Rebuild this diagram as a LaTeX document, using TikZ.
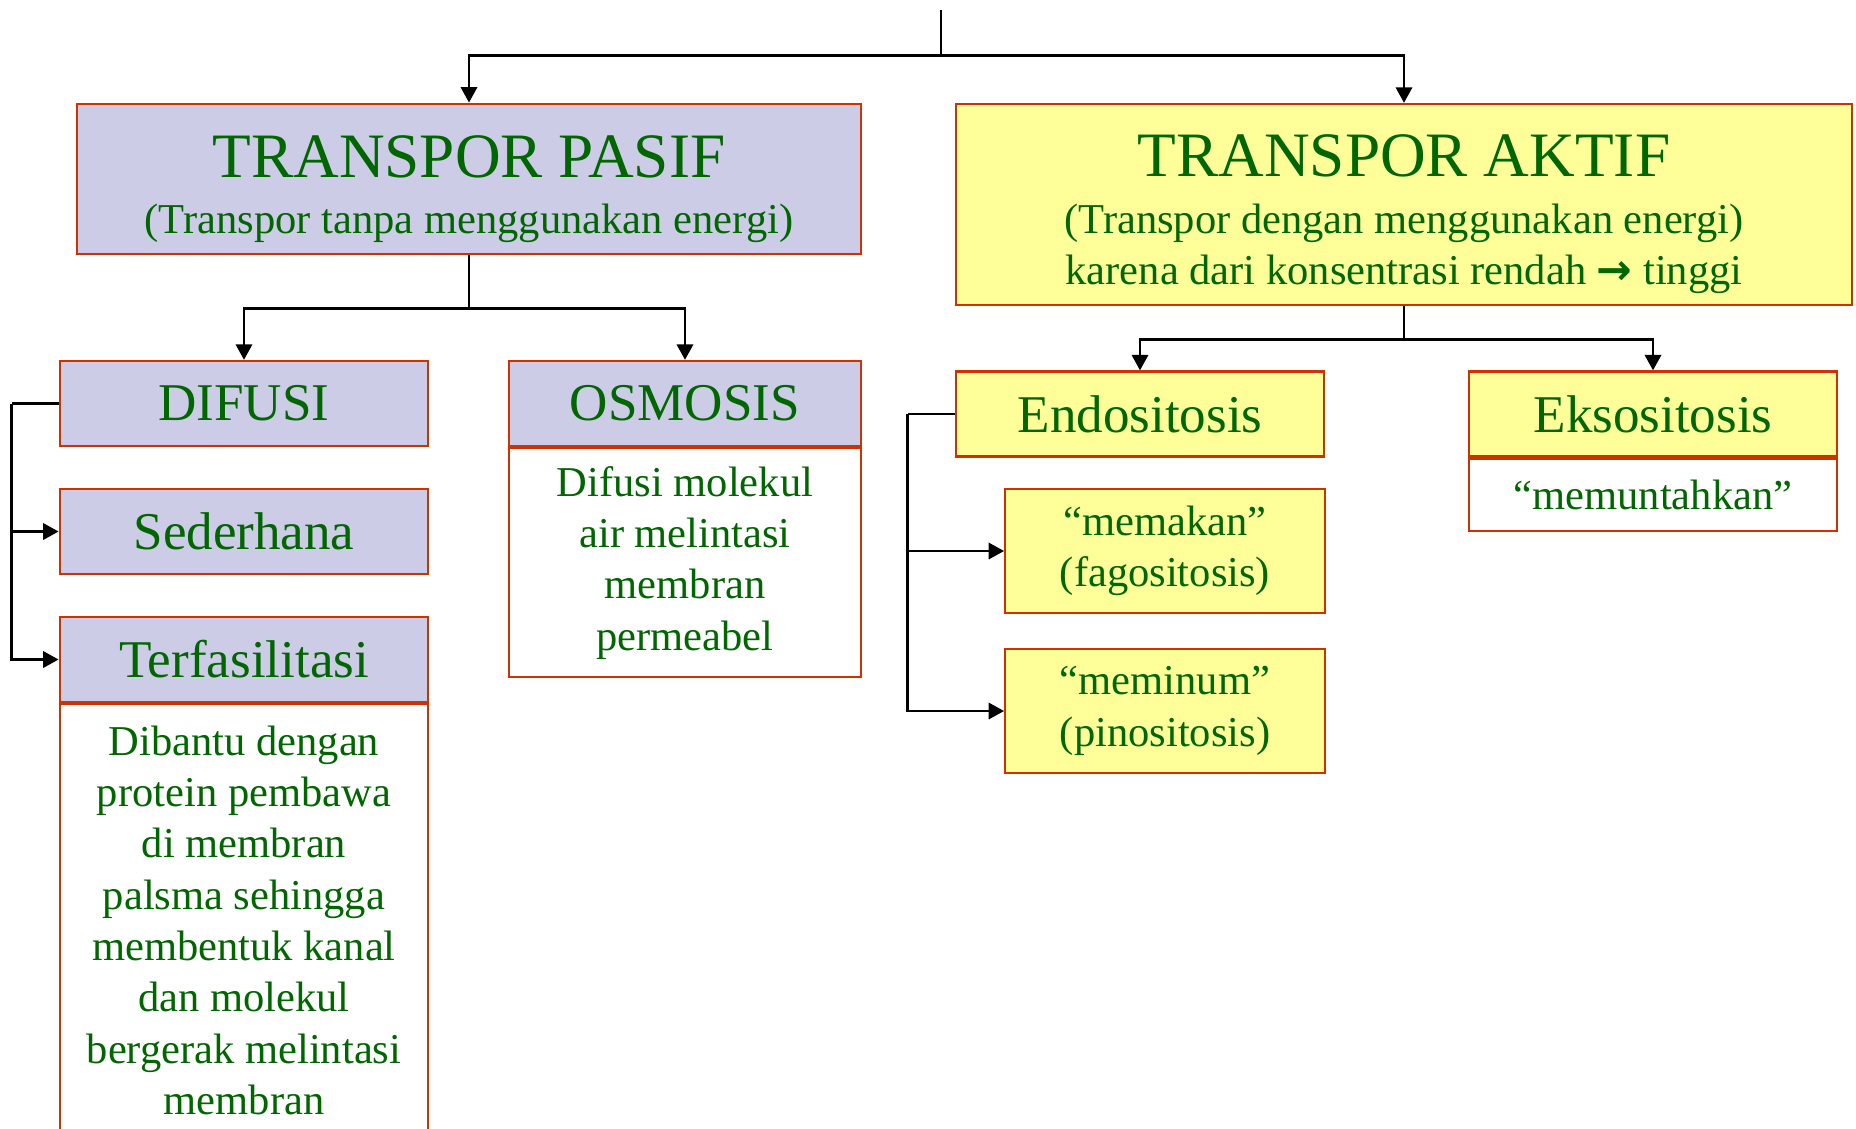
\documentclass[tikz,border=0pt]{standalone}
\usepackage{fontspec}
\setmainfont{Liberation Serif}
\newfontfamily\arrowfont{DejaVu Sans}
\usetikzlibrary{arrows.meta}

\definecolor{txtgreen}{RGB}{0,102,0}
\definecolor{pasiffill}{RGB}{204,204,230}
\definecolor{aktiffill}{RGB}{255,255,153}
\definecolor{boxline}{RGB}{204,51,0}

\begin{document}
\begin{tikzpicture}[>={Triangle[length=4.4pt,width=4.6pt]}, line width=0.8pt]
    \tikzstyle{box}=[draw=boxline, line width=0.65pt, inner sep=0pt, text=txtgreen, align=center,
                     font=\fontsize{12.1}{14.6}\selectfont]
    \tikzstyle{pasif box}=[box, fill=pasiffill]
    \tikzstyle{aktif box}=[box, fill=aktiffill]
    \tikzstyle{desc box}=[box, fill=white, anchor=north]
    \tikzstyle{label}=[font=\fontsize{15.1}{18}\selectfont, minimum height=0.85cm]
    \def\big{\fontsize{18}{21.6}\selectfont\rule{0pt}{17.5pt}}

    \useasboundingbox (0,0) rectangle (18.56,-11.28);

    % Main boxes
    \node[pasif box, minimum width=7.84cm, minimum height=1.505cm] (pasif) at (4.69,-1.79)
        {{\big TRANSPOR PASIF}\\[1.4pt] (Transpor tanpa menggunakan energi)};
    \node[aktif box, minimum width=8.965cm, minimum height=2.01cm] (aktif) at (14.04,-2.045)
        {{\big TRANSPOR AKTIF}\\[1.4pt] (Transpor dengan menggunakan energi)\\
         karena dari konsentrasi rendah {\arrowfont\bfseries →} tinggi};

    \coordinate (top) at (9.41,-0.095);
    \coordinate (jtop) at (9.41,-0.556);
    \draw (top) -- (jtop);
    \draw[->] (jtop) -| (pasif);
    \draw[->] (jtop) -| (aktif);

    % Transpor pasif
    \node[pasif box, label, minimum width=3.685cm] (difusi) at (2.44,-4.035) {DIFUSI};
    \node[pasif box, label, minimum width=3.685cm] (sederhana) at (2.44,-5.315) {Sederhana};
    \node[pasif box, label, minimum width=3.685cm] (terfas) at (2.44,-6.595) {Terfasilitasi};
    \node[desc box, minimum width=3.685cm, minimum height=4.32cm] (terfasdesc) at (terfas.south)
        {Dibantu dengan\\ protein pembawa\\ di membran\\ palsma sehingga\\ membentuk kanal\\
         dan molekul\\ bergerak melintasi\\ membran};

    \node[pasif box, label, minimum width=3.515cm] (osmosis) at (6.85,-4.035) {OSMOSIS};
    \node[desc box, minimum width=3.515cm, minimum height=2.29cm] (osmosisdesc) at (osmosis.south)
        {Difusi molekul\\ air melintasi\\ membran\\ permeabel};

    \draw (pasif.south) -- ++(0,-0.535) coordinate (jpasif);
    \draw[->] (jpasif) -| (difusi);
    \draw[->] (jpasif) -| (osmosis);

    \draw (difusi.west) -- ++(-0.47,0) coordinate (bdifusi);
    \draw[->] (bdifusi) |- (sederhana);
    \draw[->] (bdifusi) |- (terfas);

    % Transpor aktif
    \node[aktif box, label, minimum width=3.685cm] (endo) at (11.40,-4.14) {Endositosis};
    \node[aktif box, minimum width=3.195cm, minimum height=1.24cm] (memakan) at (11.65,-5.51)
        {“memakan”\\ (fagositosis)};
    \node[aktif box, minimum width=3.195cm, minimum height=1.24cm] (meminum) at (11.65,-7.11)
        {“meminum”\\ (pinositosis)};

    \node[aktif box, label, minimum width=3.68cm] (ekso) at (16.53,-4.14) {Eksositosis};
    \node[desc box, minimum width=3.68cm, minimum height=0.72cm] (eksodesc) at (ekso.south)
        {“memuntahkan”};

    \draw (aktif.south) -- ++(0,-0.335) coordinate (jaktif);
    \draw[->] (jaktif) -| (endo);
    \draw[->] (jaktif) -| (ekso);

    \draw (endo.west) -- ++(-0.47,0) coordinate (bendo);
    \draw[->] (bendo) |- (memakan);
    \draw[->] (bendo) |- (meminum);

\end{tikzpicture}
\end{document}
